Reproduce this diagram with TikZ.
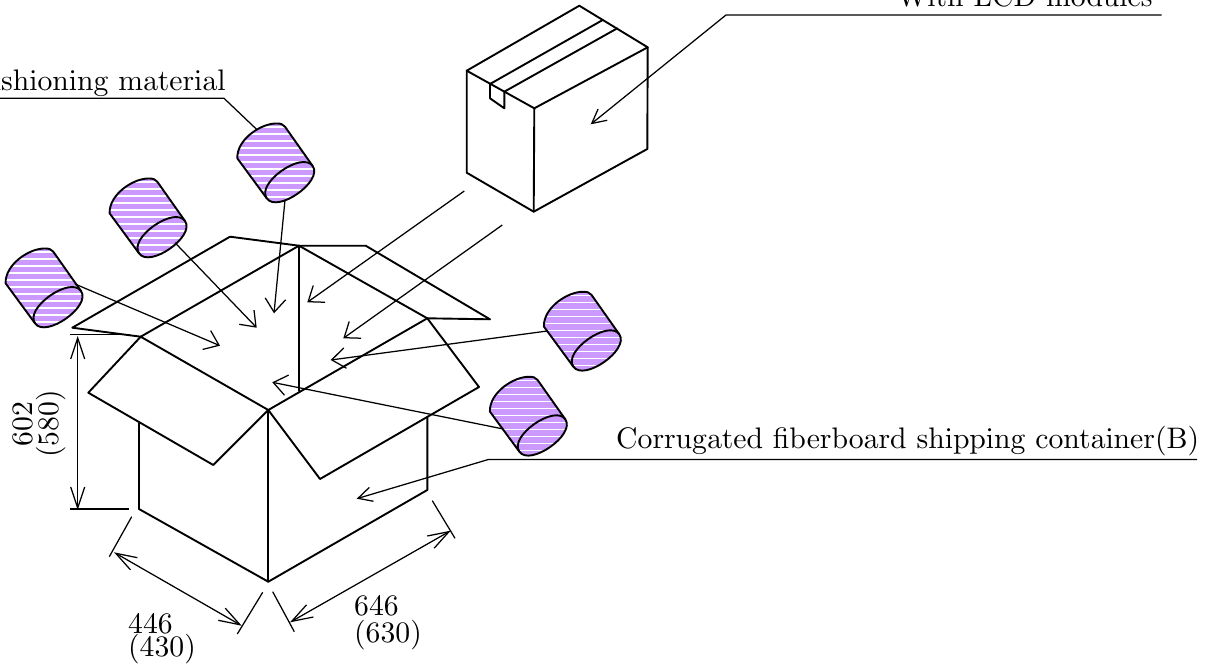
\documentclass[tikz,border=0pt]{standalone}
\usetikzlibrary{arrows.meta}
\definecolor{cushion}{HTML}{CC99FF}
\font\labelfont=cmr10 at 29.7pt
\tikzset{
  heavy/.style={line width=1.9pt,line join=round,line cap=round},
  thin line/.style={line width=1.25pt},
  arrowed/.style={thin line,-{Straight Barb[length=13.5pt,width=20.5pt,line width=1.25pt]}},
  leader/.style={thin line,-{Straight Barb[length=14pt,width=14.5pt,line width=1.25pt]}},
  twoway/.style={thin line,{Straight Barb[length=21pt,width=14pt,line width=1.25pt]}-{Straight Barb[length=21pt,width=14pt,line width=1.25pt]}},
  label text/.style={inner sep=0pt,anchor=base west,font=\labelfont},
  cylinder body/.pic={
    \path[fill=cushion] (-23,15.3) -- (-52.4,-24.7) .. controls (-53,-44) and (-28,-60) .. (-13,-59.5)
      .. controls (-9,-59.5) and (-7,-59) .. (-4.7,-56.3) -- (23,-17)
      .. controls (33.6,-1.7) and (-12.4,30.6) .. (-23,15.3) -- cycle;
    \begin{scope}
      \clip (-23,15.3) -- (-52.4,-24.7) .. controls (-53,-44) and (-28,-60) .. (-13,-59.5)
        .. controls (-9,-59.5) and (-7,-59) .. (-4.7,-56.3) -- (23,-17)
        .. controls (33.6,-1.7) and (-12.4,30.6) .. (-23,15.3) -- cycle;
      \foreach \s in {-9,...,5}{\draw[white,line width=1.1pt] (-60,7*\s) -- (40,7*\s);}
    \end{scope}
    \draw[heavy] (-23,15.3) -- (-52.4,-24.7) .. controls (-53,-44) and (-28,-60) .. (-13,-59.5)
      .. controls (-9,-59.5) and (-7,-59) .. (-4.7,-56.3) -- (23,-17);
    \draw[heavy] (-23,15.3) .. controls (-33.6,0) and (12.4,-32.3) .. (23,-17)
      .. controls (33.6,-1.7) and (-12.4,30.6) .. (-23,15.3) -- cycle;
  }
}
\begin{document}
\begin{tikzpicture}[x=1pt,y=-1pt]
\useasboundingbox (0,0) rectangle (1212,664);
\clip (0,0) rectangle (1212,664);
% cushions
\pic at (289.7,183) {cylinder body};
\pic at (162,238) {cylinder body};
\pic at (58,308) {cylinder body};
\pic at (596.3,351.3) {cylinder body};
\pic at (542.3,436.3) {cylinder body};
% open container
\coordinate (T) at (268.3,410);
\coordinate (B) at (268.3,581.7);
\coordinate (LB) at (139,509);
\coordinate (LT) at (139,423.3);
\coordinate (RB) at (427.3,490);
\coordinate (RT) at (427.3,416.7);
\coordinate (P) at (299,245.7);
\coordinate (Q) at (140.7,336.7);
\coordinate (R) at (427.3,318.3);
\coordinate (Pm) at (299,390.7);
\draw[heavy] (LT) -- (LB) -- (B) -- (RB) -- (RT);
\draw[heavy] (T) -- (B);
\draw[heavy] (T) -- (213.3,465) -- (88.3,392.7) -- (Q) -- cycle;
\draw[heavy] (T) -- (320,479) -- (479,387) -- (R) -- cycle;
\draw[heavy] (P) -- (Pm);
\draw[heavy] (P) -- (Q);
\draw[heavy] (P) -- (R);
\draw[heavy] (Q) -- (72.3,327.7) -- (230,236.7) -- (P) -- (365.7,245.7) -- (490,319.3) -- (R);
% carton
\coordinate (a) at (466.7,70.7);
\coordinate (b) at (579.3,5.7);
\coordinate (c) at (647.7,47.3);
\coordinate (d) at (534.3,108.3);
\draw[heavy] (a) -- (b) -- (c) -- (d) -- cycle;
\draw[heavy] (a) -- (466.7,172.7) -- (533.7,211.7) -- (647.3,149) -- (c);
\draw[heavy] (d) -- (533.7,211.7);
\draw[heavy] (490,84) -- (602.7,20);
\draw[heavy] (504.3,91.7) -- (617.3,28.3);
\draw[heavy] (490,84) -- (490,98.3) -- (504.3,108.3) -- (504.3,91.7);
% dimension lines
\draw[thin line] (70,334.7) -- (130,334.7);
\draw[thin line] (70,509) -- (129.3,509);
\draw[twoway] (77.7,336) -- (77.7,510);
\draw[thin line] (131.7,516.7) -- (109.3,556.7);
\draw[thin line] (262.7,592.3) -- (237.3,634);
\draw[twoway] (114,552.3) -- (241.7,625.7);
\draw[thin line] (272.7,591.7) -- (294.3,631.7);
\draw[thin line] (432.3,500.7) -- (455,538.3);
\draw[twoway] (290,622.3) -- (450.7,530.7);
% leaders and arrows
\draw[leader] (1161.7,15) -- (726,15) -- (590.7,124.3);
\draw[leader] (1197,459.5) -- (488.3,459.5) -- (356.7,498.7);
\draw[thin line] (0,98.3) -- (224,98.3) -- (257.3,130);
\draw[arrowed] (285,200) -- (274,313.3);
\draw[arrowed] (175,242.7) -- (256.7,327.7);
\draw[arrowed] (75,284) -- (220,345.7);
\draw[arrowed] (547.3,331) -- (330.7,360);
\draw[arrowed] (503.3,429) -- (272.3,382.3);
\draw[arrowed] (464.3,191) -- (307.3,302.3);
\draw[arrowed] (502.3,225) -- (343.3,338.3);
% texts
\node[label text,anchor=base east] (t1) at (1153,6) {With LCD modules};
\node[label text,anchor=base east] (t2) at (226,90) {Cushioning material};
\node[label text] (t3) at (616,448) {Corrugated fiberboard shipping container(B)};
\node[label text] (t4) at (128,633) {446};
\node[label text] (t5) at (128,656) {(430)};
\node[label text] (t6) at (354,615) {646};
\node[label text] (t7) at (354,642) {(630)};
\node[label text,anchor=base,rotate=90] (t8) at (32,424) {602};
\node[label text,anchor=base,rotate=90] (t9) at (58,424) {(580)};
\end{tikzpicture}
\end{document}
